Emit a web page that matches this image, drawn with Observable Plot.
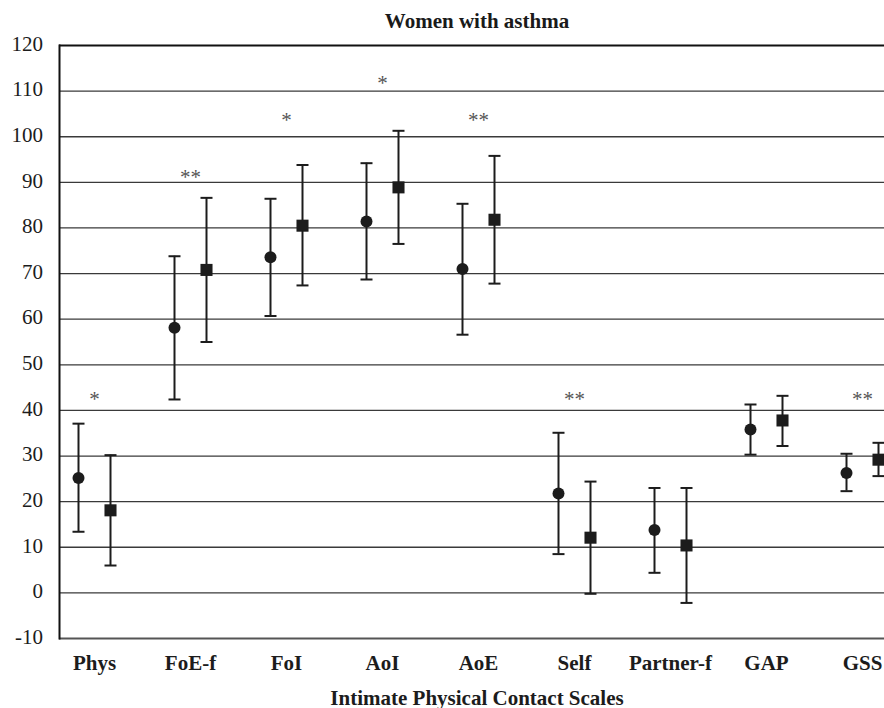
<!DOCTYPE html>
<html>
<head>
<meta charset="utf-8">
<script src="https://cdn.jsdelivr.net/npm/d3@7"></script>
<script src="https://cdn.jsdelivr.net/npm/@observablehq/plot@0.6"></script>
<style>
  html, body { margin: 0; padding: 0; background: #fff; overflow: hidden; }
  #title { font: bold 21px "Liberation Serif", "Times New Roman", serif; height: 36px; line-height: 42px; text-align: center; padding-left: 70px; color: #1a1a1a; white-space: nowrap; }
  #chart svg { overflow: visible; }
</style>
</head>
<body>
<div id="title">Women with asthma</div>
<div id="chart"></div>
<script>
const categories = ["Phys", "FoE-f", "FoI", "AoI", "AoE", "Self", "Partner-f", "GAP", "GSS"];
const circleMean = [25.2, 58.1, 73.6, 81.4, 71.0, 21.8, 13.8, 35.8, 26.3];
const circleLow  = [13.4, 42.4, 60.7, 68.7, 56.6, 8.5, 4.4, 30.3, 22.3];
const circleHigh = [37.1, 73.8, 86.4, 94.2, 85.3, 35.1, 23.0, 41.3, 30.5];
const squareMean = [18.1, 70.8, 80.5, 88.9, 81.8, 12.1, 10.4, 37.8, 29.2];
const squareLow  = [6.0, 55.0, 67.4, 76.5, 67.8, -0.2, -2.2, 32.2, 25.6];
const squareHigh = [30.2, 86.6, 93.8, 101.3, 95.8, 24.4, 23.0, 43.2, 32.9];
const stars = ["*", "**", "*", "*", "**", "**", "", "", "**"];
const starY = [43.3, 92.1, 104.5, 112.5, 104.5, 43.3, null, null, 43.3];
const yTicks = [-10, 0, 10, 20, 30, 40, 50, 60, 70, 80, 90, 100, 110, 120];
const xTitle = "Intimate Physical Contact Scales";

const circles = categories.map((c, i) => ({cat: c, mean: circleMean[i], low: circleLow[i], high: circleHigh[i]}));
const squares = categories.map((c, i) => ({cat: c, mean: squareMean[i], low: squareLow[i], high: squareHigh[i]}));
const starRows = categories.map((c, i) => ({cat: c, text: stars[i], y: starY[i]})).filter(d => d.text);

const cap = {draw(ctx, size) { const w = Math.sqrt(size / Math.PI); ctx.moveTo(-w, 0); ctx.lineTo(w, 0); }};
const ink = "#1c1c1c";

function errorMarks(rows, dx, symbol, r) {
  return [
    Plot.ruleX(rows, {x: "cat", y1: "low", y2: "high", dx, stroke: ink, strokeWidth: 2}),
    Plot.dot(rows, {x: "cat", y: "high", dx, symbol: cap, r: 6, stroke: ink, strokeWidth: 2, fill: "none"}),
    Plot.dot(rows, {x: "cat", y: "low", dx, symbol: cap, r: 6, stroke: ink, strokeWidth: 2, fill: "none"}),
    Plot.dot(rows, {x: "cat", y: "mean", dx, symbol, r, fill: ink, stroke: "none"})
  ];
}

const chart = Plot.plot({
  width: 884,
  height: 672,
  marginTop: 9,
  marginBottom: 70,
  marginLeft: 59,
  marginRight: 0,
  style: {fontFamily: '"Liberation Serif", "Times New Roman", serif', background: "#fff", color: ink, overflow: "visible"},
  x: {type: "point", domain: categories, padding: 0.266, align: 0.62},
  y: {domain: [yTicks[0], yTicks[yTicks.length - 1]]},
  marks: [
    Plot.ruleY(yTicks.slice(1, -1), {stroke: "#3a3a3a", strokeWidth: 1.3}),
    Plot.ruleY([yTicks[yTicks.length - 1]], {stroke: "#111", strokeWidth: 2}),
    Plot.ruleY([yTicks[0]], {stroke: "#555", strokeWidth: 2}),
    Plot.frame({anchor: "left", stroke: "#111", strokeWidth: 2}),
    Plot.axisY({ticks: yTicks, tickSize: 0, tickPadding: 16.5, tickFormat: d => String(d), fontSize: 21, label: null, dy: -1.5, fill: ink}),
    Plot.axisX({tickSize: 0, tickPadding: 17, fontSize: 21, fontWeight: "bold", label: null, fill: ink}),
    Plot.text([xTitle], {frameAnchor: "bottom", lineAnchor: "bottom", dy: 66, dx: 5, fontSize: 21, fontWeight: "bold", fill: ink}),
    ...errorMarks(circles, -16, "circle", 6),
    ...errorMarks(squares, 16, "square", 6.8),
    Plot.text(starRows, {x: "cat", y: "y", text: "text", dy: 4, fontSize: 21, fill: "#555"})
  ]
});
document.getElementById("chart").appendChild(chart);
</script>
</body>
</html>
